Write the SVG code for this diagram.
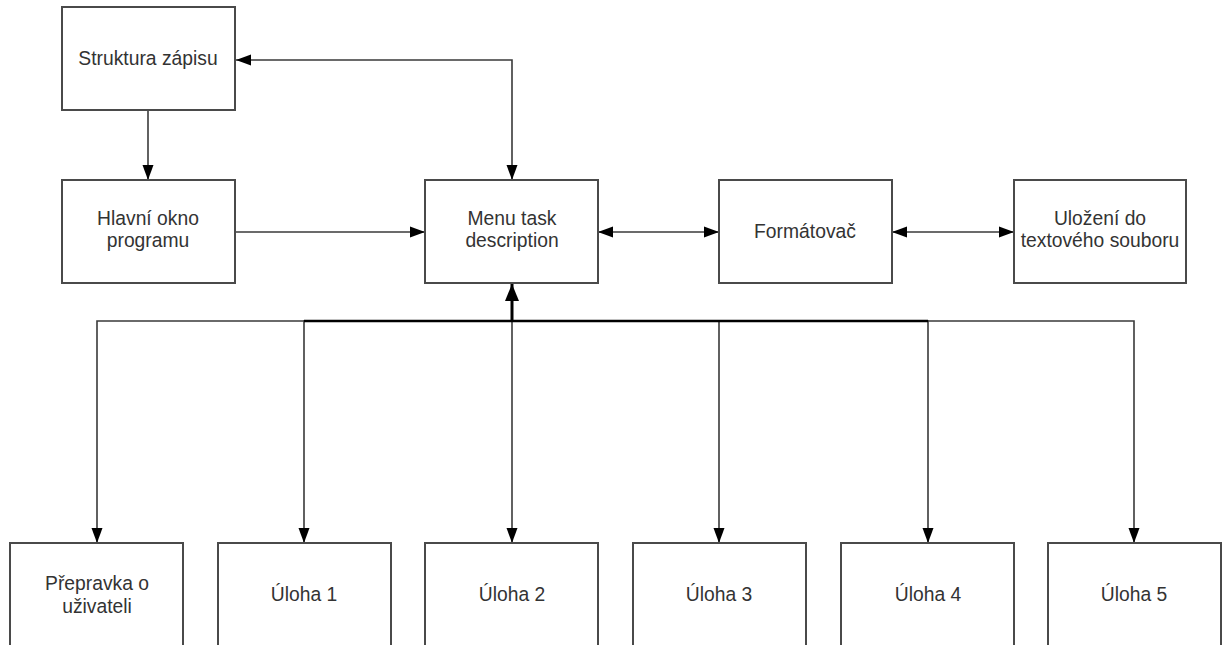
<svg xmlns="http://www.w3.org/2000/svg" width="1229" height="645" viewBox="0 0 1229 645">
<style>
.box{fill:#fff;stroke:#4a4a4a;stroke-width:2}
.t{font-family:"Liberation Sans",Arial,sans-serif;font-size:19.3px;fill:#333;text-anchor:middle}
.c{fill:none;stroke:#3a3a3a;stroke-width:1.6}
</style>
<defs>
<marker id="ah" markerUnits="userSpaceOnUse" markerWidth="16" markerHeight="14" refX="15" refY="7" orient="auto-start-reverse" viewBox="0 0 16 14">
<path d="M0,1.5 L15,7 L0,12.5 Z" fill="#000"/>
</marker>
<marker id="ahb" markerUnits="userSpaceOnUse" markerWidth="18" markerHeight="16" refX="17" refY="8" orient="auto" viewBox="0 0 18 16">
<path d="M0,1 L17,8 L0,15 Z" fill="#000"/>
</marker>
</defs>
<rect width="1229" height="645" fill="#fff"/>
<g id="connectors">
<path class="c" d="M148,110 V180" marker-end="url(#ah)"/>
<path class="c" d="M236,60 H512 V180" marker-start="url(#ah)" marker-end="url(#ah)"/>
<path class="c" d="M235,232 H425" marker-end="url(#ah)"/>
<path class="c" d="M598,232 H719" marker-start="url(#ah)" marker-end="url(#ah)"/>
<path class="c" d="M892,232 H1014" marker-start="url(#ah)" marker-end="url(#ah)"/>
<path class="c" d="M512,321 H97 V543" marker-end="url(#ah)"/>
<path class="c" d="M512,321 H304 V543" marker-end="url(#ah)"/>
<path class="c" d="M512,321 V543" marker-end="url(#ah)"/>
<path class="c" d="M512,321 H719 V543" marker-end="url(#ah)"/>
<path class="c" d="M512,321 H928 V543" marker-end="url(#ah)"/>
<path class="c" d="M512,321 H1134 V543" marker-end="url(#ah)"/>
<path class="c" d="M304,321 H928" style="stroke:#000;stroke-width:2.4"/>
<path class="c" d="M512,321 V284" marker-end="url(#ahb)" style="stroke:#000;stroke-width:3"/>
</g>
<g id="struktura"><rect class="box" x="62" y="7" width="173" height="103"/><text class="t" x="148" y="65">Struktura zápisu</text></g>
<g id="hlavni"><rect class="box" x="62" y="180" width="173" height="103"/><text class="t" x="148" y="225">Hlavní okno</text><text class="t" x="148" y="247">programu</text></g>
<g id="menu"><rect class="box" x="425" y="180" width="173" height="103"/><text class="t" x="512" y="225">Menu task</text><text class="t" x="512" y="247">description</text></g>
<g id="formatovac"><rect class="box" x="719" y="180" width="173" height="103"/><text class="t" x="805" y="238">Formátovač</text></g>
<g id="ulozeni"><rect class="box" x="1014" y="180" width="172" height="103"/><text class="t" x="1100" y="225">Uložení do</text><text class="t" x="1100" y="247">textového souboru</text></g>
<g id="prepravka"><rect class="box" x="10" y="543" width="173" height="103"/><text class="t" x="97" y="590">Přepravka o</text><text class="t" x="97" y="613">uživateli</text></g>
<g id="uloha1"><rect class="box" x="218" y="543" width="173" height="103"/><text class="t" x="304" y="601">Úloha 1</text></g>
<g id="uloha2"><rect class="box" x="425" y="543" width="173" height="103"/><text class="t" x="512" y="601">Úloha 2</text></g>
<g id="uloha3"><rect class="box" x="633" y="543" width="173" height="103"/><text class="t" x="719" y="601">Úloha 3</text></g>
<g id="uloha4"><rect class="box" x="841" y="543" width="173" height="103"/><text class="t" x="928" y="601">Úloha 4</text></g>
<g id="uloha5"><rect class="box" x="1048" y="543" width="173" height="103"/><text class="t" x="1134" y="601">Úloha 5</text></g>
</svg>
